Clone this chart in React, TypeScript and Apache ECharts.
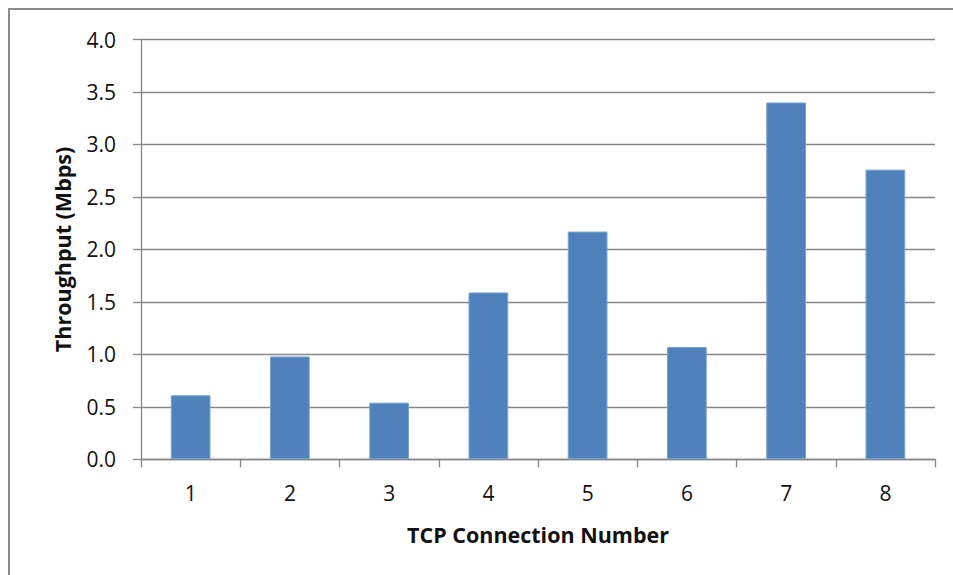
import React, { useEffect, useRef } from "react";
import * as echarts from "echarts";

const categories = ["1", "2", "3", "4", "5", "6", "7", "8"];
const throughput = [0.61, 0.98, 0.54, 1.59, 2.17, 1.07, 3.4, 2.76];
const xTitle = "TCP Connection Number";
const yTitle = "Throughput (Mbps)";

export default function App() {
  const ref = useRef<HTMLDivElement>(null);
  useEffect(() => {
    if (!ref.current) return;
    const chart = echarts.init(ref.current, undefined, { renderer: "svg" });
    const font = "'Open Sans', 'Liberation Sans', sans-serif";
    chart.setOption({
      animation: false,
      backgroundColor: "#ffffff",
      textStyle: { fontFamily: font },
      graphic: [
        {
          type: "rect",
          shape: { x: 9, y: 9, width: 1000, height: 700 },
          style: { fill: "none", stroke: "#8a8a8a", lineWidth: 2 },
          silent: true,
        },
      ],
      grid: { left: 141, right: 18, top: 39.5, bottom: 115.7 },
      xAxis: {
        type: "category",
        data: categories,
        name: xTitle,
        nameLocation: "middle",
        nameGap: 64,
        nameTextStyle: { fontSize: 21.5, fontWeight: "bold", color: "#111", fontFamily: font },
        axisLine: { show: true, lineStyle: { color: "#868686", width: 1.3 } },
        axisTick: { show: true, inside: false, length: 8, alignWithLabel: false, lineStyle: { color: "#868686", width: 1.3 } },
        axisLabel: { fontSize: 21, color: "#111", margin: 23, fontFamily: font },
        splitLine: { show: false },
      },
      yAxis: {
        type: "value",
        min: 0,
        max: 4,
        interval: 0.5,
        name: yTitle,
        nameLocation: "middle",
        nameGap: 68,
        nameTextStyle: { fontSize: 21.5, fontWeight: "bold", color: "#111", fontFamily: font },
        axisLine: { show: true, lineStyle: { color: "#868686", width: 1.3 } },
        axisTick: { show: true, inside: false, length: 8, lineStyle: { color: "#868686", width: 1.3 } },
        axisLabel: {
          fontSize: 21,
          color: "#111",
          margin: 25,
          fontFamily: font,
          formatter: (v: number) => v.toFixed(1),
        },
        splitLine: { show: true, lineStyle: { color: "#868686", width: 1.3 } },
      },
      series: [
        {
          type: "bar",
          data: throughput,
          barWidth: "40%",
          itemStyle: { color: "#4F81BD", borderColor: "#7aa0d0", borderWidth: 1 },
        },
      ],
    });
    return () => chart.dispose();
  }, []);
  return (
    <div
      ref={ref}
      style={{ position: "fixed", left: 0, top: 0, width: 953, height: 575 }}
    />
  );
}
